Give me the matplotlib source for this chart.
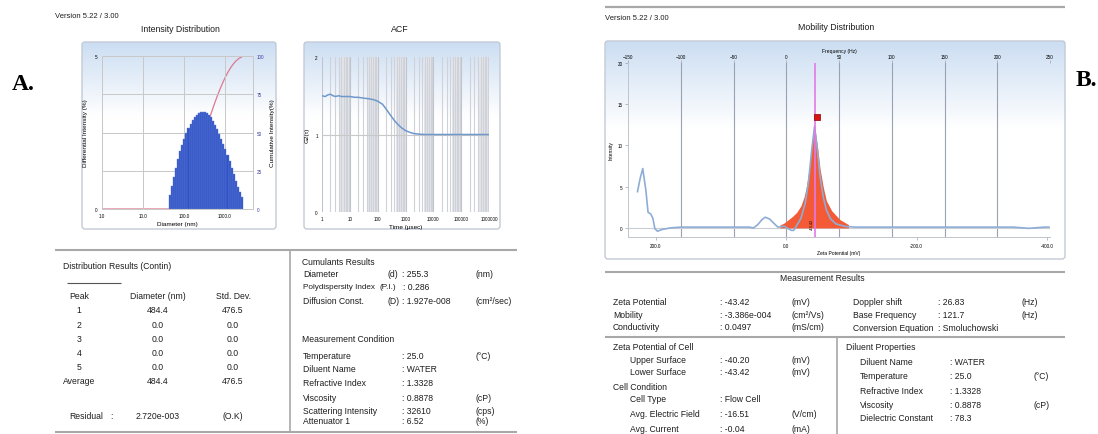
import numpy as np
import matplotlib.pyplot as plt
from matplotlib.patches import FancyBboxPatch

plt.rcParams['font.family'] = ['Liberation Sans', 'DejaVu Sans']

# A: intensity distribution (Contin), differential intensity per size bin
diam_nm = [45.7, 51.3, 57.5, 64.6, 72.4, 81.3, 91.2, 102.3, 114.8, 128.8, 144.5, 162.2,
           182.0, 204.2, 229.1, 257.0, 288.4, 323.6, 363.1, 407.4, 457.1, 512.9, 575.4,
           645.7, 724.4, 812.8, 912.0, 1023, 1148, 1288, 1445, 1622, 1820, 2042, 2291, 2570]
diff_int = [0.45, 0.75, 1.05, 1.35, 1.62, 1.88, 2.10, 2.30, 2.48, 2.64, 2.78, 2.90,
            3.00, 3.08, 3.13, 3.16, 3.17, 3.16, 3.13, 3.08, 3.00, 2.88, 2.75,
            2.60, 2.45, 2.30, 2.13, 1.95, 1.76, 1.56, 1.35, 1.14, 0.93, 0.73, 0.55, 0.38]

# A: ACF
tau_us = [1, 1.3, 1.6, 2, 2.5, 3, 4, 5, 7, 10, 15, 20, 30, 50, 70, 100, 150, 200, 300,
          400, 500, 700, 1000, 1500, 2000, 3000, 5000, 1e4, 1e5, 1e6]
g2 = [1.50, 1.49, 1.51, 1.52, 1.50, 1.49, 1.50, 1.49, 1.49, 1.49, 1.48, 1.48, 1.47, 1.46,
      1.45, 1.43, 1.39, 1.33, 1.24, 1.18, 1.14, 1.09, 1.05, 1.025, 1.012, 1.005, 1.0, 1.0,
      1.0, 1.0]

# B: mobility distribution (frequency in Hz)
freq_hz = [-141, -138.5, -136, -133, -131, -128.5, -126.5, -124.5, -122, -118, -110, -100,
           -80, -60, -45, -35, -31, -27, -23, -20, -16, -12, -8, -5, -2, 2, 5, 7, 10, 14,
           18, 21, 24, 26.8, 29.5, 32, 35, 38, 42, 47, 55, 65, 80, 100, 130, 160, 190, 215,
           225, 230, 235, 245, 249]
mob_int = [4.4, 6.0, 7.2, 4.5, 1.9, 1.7, 1.2, -0.1, -0.4, -0.2, 0.0, 0.1,
           0.1, 0.1, 0.1, 0.1, 0.0, 0.4, 1.0, 1.3, 1.1, 0.6, 0.1, 0.15, 0.2, -0.1, -0.3,
           -0.3, 0.3, 1.2, 3.0, 5.5, 9.3, 12.3, 9.5, 6.3, 3.8, 2.2, 1.1, 0.5, 0.2, 0.1,
           0.1, 0.1, 0.1, 0.1, 0.1, 0.1, 0.0, -0.05, 0.0, 0.1, 0.1]
peak_hz = [-6, -2, 2, 6, 10, 14, 17, 19, 21.5, 24, 26.8, 29.5, 32, 35, 38, 43, 48, 51, 55, 59]
peak_int = [0.35, 0.6, 1.0, 1.4, 1.9, 2.7, 3.8, 5.0, 7.0, 9.8, 12.4, 10.0, 7.2, 5.0, 3.3,
            2.1, 1.4, 1.0, 0.7, 0.4]
doppler_hz = 26.83
zeta_mv = -43.42
marker_hz, marker_int = 29.5, 13.4
zeta_ticks = [200.0, 0.0, -200.0, -400.0]
freq_ticks = [-150, -100, -50, 0, 50, 100, 150, 200, 250]

# tables
dist_peak = ['1', '2', '3', '4', '5', 'Average']
dist_diam = ['484.4', '0.0', '0.0', '0.0', '0.0', '484.4']
dist_std = ['476.5', '0.0', '0.0', '0.0', '0.0', '476.5']
cond_rows = [('Temperature', ': 25.0', '(°C)'), ('Diluent Name', ': WATER', ''),
             ('Refractive Index', ': 1.3328', ''), ('Viscosity', ': 0.8878', '(cP)'),
             ('Scattering Intensity', ': 32610', '(cps)'), ('Attenuator 1', ': 6.52', '(%)')]
zeta_rows = [('Zeta Potential', ': -43.42', '(mV)'), ('Mobility', ': -3.386e-004', '(cm²/Vs)'),
             ('Conductivity', ': 0.0497', '(mS/cm)')]
dopp_rows = [('Doppler shift', ': 26.83', '(Hz)'), ('Base Frequency', ': 121.7', '(Hz)'),
             ('Conversion Equation', ': Smoluchowski', '')]
dil_rows = [('Diluent Name', ': WATER', ''), ('Temperature', ': 25.0', '(°C)'),
            ('Refractive Index', ': 1.3328', ''), ('Viscosity', ': 0.8878', '(cP)'),
            ('Dielectric Constant', ': 78.3', '')]

W, H = 1098, 435
fig = plt.figure(figsize=(W / 100, H / 100), dpi=100)

canvas = fig.add_axes([0, 0, 1, 1], zorder=0)


def px_axes(x0, y0, x1, y1):
    a = fig.add_axes([x0 / W, 1 - y1 / H, (x1 - x0) / W, (y1 - y0) / H], zorder=2)
    a.patch.set_alpha(0)
    return a


def put(x, y, s, size=6.2, ha='left', **kw):
    canvas.text(x, y, s, fontsize=size, ha=ha, va='center', color='#1e1e1e', **kw)


def hline(y, x0, x1, lw=1.5, color='#a8a8a8'):
    canvas.plot([x0, x1], [y, y], color=color, lw=lw, solid_capstyle='butt')


def frame(x0, y0, x1, y1):
    t = np.linspace(0, 1, 120)
    f = np.clip(t / 0.4, 0, 1)[:, None, None]
    top = np.array([0.80, 0.87, 0.95])
    img = top * (1 - f) + np.ones(3) * f
    canvas.imshow(img, extent=(x0, x1, y1, y0), aspect='auto', origin='upper', zorder=0)
    canvas.add_patch(FancyBboxPatch((x0, y0), x1 - x0, y1 - y0,
                                    boxstyle='round,pad=0,rounding_size=3',
                                    fc='none', ec='#c3cad6', lw=1.0, zorder=1))


frame(82, 43, 276, 230)
frame(304, 43, 500, 230)
frame(605, 42, 1065, 260)

# ---- labels A / B and headers
canvas.text(23, 84, 'A.', fontsize=17, fontweight='bold', family='Liberation Serif',
            ha='center', va='center')
canvas.text(1086, 80, 'B.', fontsize=17, fontweight='bold', family='Liberation Serif',
            ha='center', va='center')
put(55, 17, 'Version 5.22 / 3.00', size=5.5)
put(180, 30, 'Intensity Distribution', size=6.3, ha='center')
put(400, 30, 'ACF', size=6.3, ha='center')
hline(8, 605, 1065, lw=1.6)
put(605, 19, 'Version 5.22 / 3.00', size=5.5)
put(836, 28, 'Mobility Distribution', size=6.3, ha='center')

# ---- Intensity distribution chart
ax1 = px_axes(102, 57, 253, 210)
ax2 = ax1.twinx()
ax1.set_zorder(ax2.get_zorder() + 1)
ax1.patch.set_visible(False)
widths = [d * (10 ** 0.025 - 10 ** -0.025) for d in diam_nm]
ax1.bar(diam_nm, diff_int, width=widths, color='#2f52c4', edgecolor='#6482d8', lw=0.3,
        zorder=3)
ax1.set_xscale('log')
ax1.set_xlim(1, 4800)
ax1.set_ylim(0, 5)
ax1.set_xticks([1, 10, 100, 1000], ['1.0', '10.0', '100.0', '1000.0'])
ax1.xaxis.set_minor_locator(plt.NullLocator())
ax1.set_yticks([0, 5])
ax1.set_yticks([1.25, 2.5, 3.75], minor=True)
ax1.grid(True, which='both', color='#c8c8c8', lw=0.7)
ax1.set_axisbelow(True)
cum = np.cumsum(diff_int) / np.sum(diff_int) * 100
cum_x = [1.0] + diam_nm + [diam_nm[-1] * 1.12, 4800]
cum_y = [0, 0] + list(cum[:-1]) + [100, 100]
ax2.plot(cum_x, cum_y, color='#e07890', lw=0.9)
ax2.set_ylim(0, 100)
ax2.set_yticks([0, 25, 50, 75, 100])
for a in (ax1, ax2):
    a.tick_params(length=0, labelsize=3.3, pad=3, which='both')
    for s in a.spines.values():
        s.set_color('#c8c8c8')
        s.set_linewidth(0.7)
ax2.tick_params(labelcolor='#3a3aa8')
ax1.set_xlabel('Diameter (nm)', fontsize=4.6, labelpad=2)
ax1.set_ylabel('Differential Intensity (%)', fontsize=4.6, labelpad=5)
ax2.set_ylabel('Cumulative Intensity(%)', fontsize=4.6, labelpad=4)

# ---- ACF chart
axA = px_axes(322, 58, 489, 213)
axA.set_xscale('log')
axA.set_xlim(1, 1e6)
axA.set_ylim(0, 2)
for k in range(6):
    axA.axvspan(4.5 * 10 ** k, 10 ** (k + 1), color='#e3e5ea', lw=0, zorder=0)
axA.grid(True, which='minor', axis='x', color='#cfd2d8', lw=0.8)
axA.grid(True, which='major', axis='x', color='#c0c4cc', lw=0.8)
axA.axhline(1, color='#c8c8c8', lw=0.8)
axA.plot(tau_us, g2, color='#6f98cc', lw=1.1, zorder=3)
axA.set_xticks([1, 10, 100, 1000, 1e4, 1e5, 1e6],
               ['1', '10', '100', '1000', '10000', '100000', '1000000'])
axA.set_yticks([0, 1, 2])
axA.tick_params(length=0, labelsize=3.3, pad=3, which='both')
for s in axA.spines.values():
    s.set_visible(False)
axA.set_xlabel('Time (µsec)', fontsize=4.6, labelpad=2)
axA.set_ylabel('G2(τ)', fontsize=4.6, labelpad=4)

# ---- Mobility distribution chart
axM = px_axes(628, 64, 1050, 238)
axM.set_xlim(freq_ticks[0], freq_ticks[-1])
axM.set_ylim(-1.1, 20)
for f in freq_ticks[1:-1]:
    axM.axvline(f, color='#9aa2b2', lw=0.8, zorder=1)
axM.axhline(0, color='#c8cdd6', lw=0.8, zorder=1)
axM.fill_between(peak_hz, peak_int, 0, color='#f45a36', lw=0, zorder=2)
axM.plot(freq_hz, mob_int, color='#8eadd6', lw=1.2, zorder=3)
axM.axvline(doppler_hz, color='#e27ae6', lw=1.2, zorder=4)
axM.plot([marker_hz], [marker_int], marker='s', ms=5, color='#d81414', mec='#8a0000',
         mew=0.5, zorder=5)
axM.text(doppler_hz - 2.5, 0.5, '-43.42', rotation=90, fontsize=2.8, ha='center',
         va='center', zorder=5)
mv_per_hz = zeta_mv / doppler_hz
axM.set_xticks([v / mv_per_hz for v in zeta_ticks], ['%.1f' % v for v in zeta_ticks])
axM.set_yticks([0, 5, 10, 15, 20])
axM.tick_params(length=2, width=0.5, color='#9aa2b2', labelsize=3.3, pad=2)
axM.set_xlabel('Zeta Potential (mV)', fontsize=3.6, labelpad=2)
axM.set_ylabel('Intensity', fontsize=3.6, labelpad=3)
top = axM.secondary_xaxis('top')
top.set_xticks(freq_ticks)
top.tick_params(length=2, width=0.5, color='#9aa2b2', labelsize=3.3, pad=1)
top.set_xlabel('Frequency (Hz)', fontsize=3.6, labelpad=1)
top.spines['top'].set_visible(False)
for k, s in axM.spines.items():
    s.set_color('#c0c4cc')
    s.set_linewidth(0.7)
axM.spines['top'].set_visible(False)
axM.spines['right'].set_visible(False)

# ---- Table A: distribution results
hline(251, 55, 517)
hline(433, 55, 517)
canvas.plot([290, 290], [251, 433], color='#a8a8a8', lw=1.2)
put(63, 267, 'Distribution Results (Contin)')
hline(284, 67, 121, lw=0.8, color='#555555')
put(79, 297, 'Peak', ha='center')
put(158, 297, 'Diameter (nm)', ha='center')
put(233, 297, 'Std. Dev.', ha='center')
for i, (p, d, s) in enumerate(zip(dist_peak, dist_diam, dist_std)):
    y = 311 + i * 14.2
    put(79, y, p, ha='center')
    put(158, y, d, ha='center')
    put(233, y, s, ha='center')
put(69, 417, 'Residual')
put(110, 417, ':')
put(158, 417, '2.720e-003', ha='center')
put(233, 417, '(O.K)', ha='center')

# ---- Table A: cumulants
put(302, 263, 'Cumulants Results')
put(303, 275, 'Diameter')
put(387, 275, '(d)')
put(402, 275, ': 255.3')
put(475, 275, '(nm)')
put(303, 288, 'Polydispersity Index', size=5.9)
put(380, 288, '(P.I.)', size=5.9)
put(403, 288, ': 0.286')
put(303, 302, 'Diffusion Const.')
put(387, 302, '(D)')
put(402, 302, ': 1.927e-008')
put(475, 302, '(cm²/sec)')
put(302, 340, 'Measurement Condition')
for (lab, val, unit), y in zip(cond_rows, [357, 370, 384, 399, 412, 422]):
    put(303, y, lab)
    put(402, y, val)
    put(475, y, unit)

# ---- Table B: measurement results
hline(273, 605, 1065)
put(822, 279, 'Measurement Results', ha='center')
for i, (lab, val, unit) in enumerate(zeta_rows):
    y = 303 + i * 12.5
    put(613, y, lab)
    put(720, y, val)
    put(792, y, unit)
for i, (lab, val, unit) in enumerate(dopp_rows):
    y = 303 + i * 12.8
    put(853, y, lab)
    put(938, y, val)
    put(1022, y, unit)
hline(338, 605, 1065)
canvas.plot([837, 837], [338, 435], color='#a8a8a8', lw=1.2)
put(613, 348, 'Zeta Potential of Cell')
put(630, 361, 'Upper Surface')
put(720, 361, ': -40.20')
put(792, 361, '(mV)')
put(630, 373, 'Lower Surface')
put(720, 373, ': -43.42')
put(792, 373, '(mV)')
put(613, 388, 'Cell Condition')
put(630, 400, 'Cell Type')
put(720, 400, ': Flow Cell')
put(630, 415, 'Avg. Electric Field')
put(720, 415, ': -16.51')
put(792, 415, '(V/cm)')
put(630, 430, 'Avg. Current')
put(720, 430, ': -0.04')
put(792, 430, '(mA)')
put(846, 348, 'Diluent Properties')
for (lab, val, unit), y in zip(dil_rows, [363, 377, 392, 406, 419]):
    put(860, y, lab)
    put(950, y, val)
    put(1033, y, unit)

canvas.set_xlim(0, W)
canvas.set_ylim(H, 0)
canvas.axis('off')

fig.savefig('out.png', dpi=100)
